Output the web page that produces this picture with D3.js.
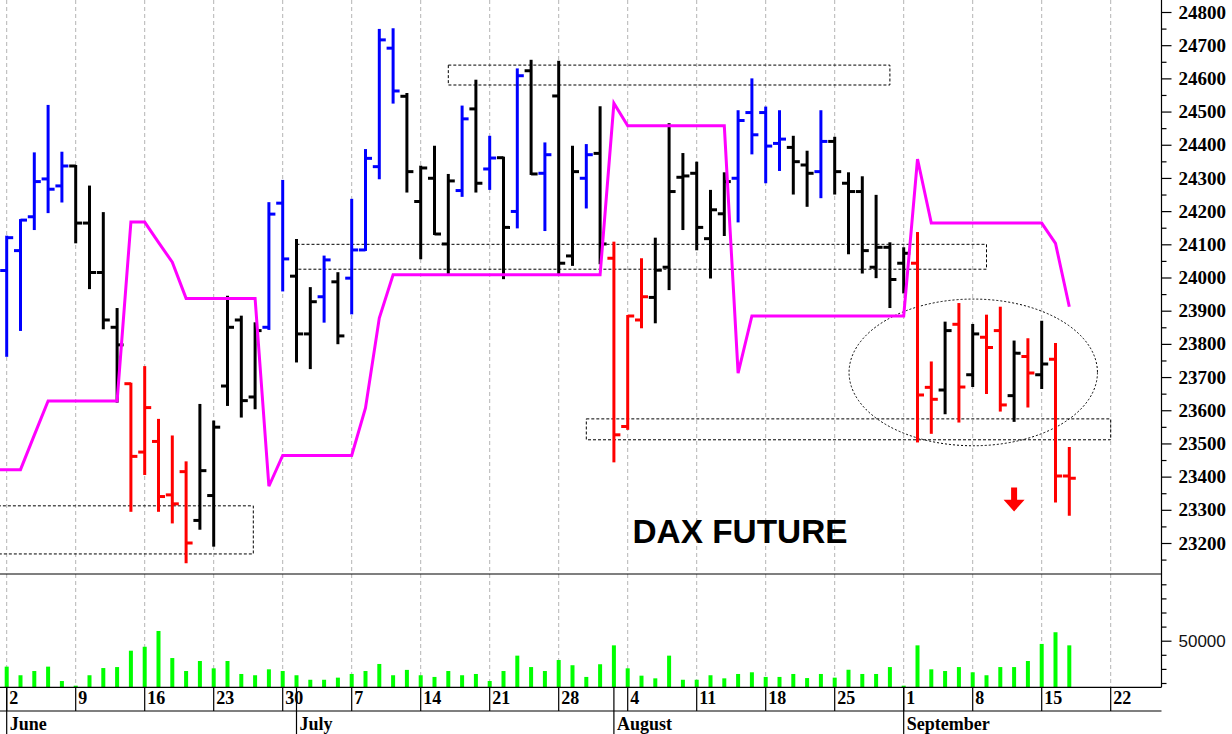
<!DOCTYPE html>
<html><head><meta charset="utf-8">
<script src="https://cdn.jsdelivr.net/npm/d3@7"></script>
<style>html,body{margin:0;padding:0;background:#fff;} svg{display:block;}</style>
</head><body><svg id="c" width="1232" height="734"></svg>
<script>
// ---- DATA (trading-day index 0 = 2 June 2025) ----
const opens  = [24021,24081,24183,24297,24276,24336,24164,24015,23850,23680,23474,23506,23345,23415,23268,23343,23673,23872,23640,23850,
                24224,24004,23830,23942,23987,23998,24083,24334,24691,24546,24229,24299,24101,24262,24508,24327,24361,24199,24623,24314,
                24547,24065,24299,24374,24058,23551,23872,23940,24031,24302,24314,24117,24192,24299,24497,24497,24404,24392,24339,24319,
                24410,24284,24259,24031,24091,24043,24043,23669,23661,23859,23707,23820,23840,23644,23762,23707,23754,23402];
const highs  = [24123,24173,24374,24517,24376,24336,24274,24194,23905,23680,23730,23571,23521,23443,23616,23566,23942,23882,23862,24224,
                24291,24113,23968,24063,24013,24234,24384,24746,24748,24553,24334,24394,24309,24515,24593,24424,24361,24627,24653,24404,
                24650,24394,24399,24513,24105,23884,24055,24117,24462,24372,24346,24261,24314,24501,24597,24512,24501,24424,24379,24501,
                24421,24314,24302,24246,24103,24088,24134,23744,23864,23920,23857,23885,23909,23807,23814,23867,23800,23486];
const lows   = [23764,23842,24146,24197,24229,24106,23968,23847,23626,23297,23408,23297,23262,23142,23243,23192,23616,23581,23606,23845,
                23961,23747,23727,23867,23802,23892,24083,24299,24527,24259,24058,24131,24013,24246,24259,24267,23998,24151,24312,24143,
                24011,24038,24211,24043,23446,23544,23850,23865,23965,24146,24085,24000,24128,24169,24374,24287,24324,24253,24216,24242,
                24253,24073,24015,24001,23911,23955,23506,23532,23591,23566,23673,23652,23599,23568,23611,23667,23325,23285];
const closes = [24120,24173,24289,24266,24336,24164,24015,23872,23797,23461,23608,23340,23318,23200,23418,23549,23850,23629,23840,24191,
                24056,23830,23927,24053,23824,24083,24359,24716,24562,24319,24330,24131,24291,24478,24284,24360,24151,24608,24312,24370,
                24043,24319,24370,24101,23526,23884,23942,24022,24259,24306,24151,24204,24289,24473,24430,24396,24417,24349,24314,24410,
                24319,24259,24081,24091,23994,24073,23646,23633,23840,23670,23830,23789,23616,23772,23712,23739,23402,23395];
const trends = ["up","up","up","up","up","flat","flat","flat","flat","down","down","down","down","down","flat","flat","flat","flat","flat","up",
                "up","flat","flat","up","flat","up","up","up","up","flat","flat","flat","flat","up","flat","up","flat","up","flat","up",
                "flat","flat","up","flat","down","down","down","flat","flat","flat","flat","flat","flat","up","up","up","up","flat","flat","up",
                "flat","flat","flat","flat","flat","flat","down","down","flat","down","flat","down","down","flat","down","flat","down","down"];
const volumes = [31600,25500,28500,31600,21400,18100,25500,30600,31300,42900,45700,56900,37700,28500,35600,30400,35600,26400,25500,29700,
                 28500,25500,22300,22300,23800,26400,28500,33500,25500,29300,25500,24300,28500,25500,26400,21400,28500,39400,31300,28500,
                 36300,32600,24300,33300,46700,30400,25200,23300,39400,22300,22300,25500,23300,26400,27600,24300,24300,26400,23500,26400,
                 23800,29400,26400,26400,31300,18100,46700,29700,28500,31300,27600,25500,31300,31300,35600,47700,56000,46700];
// stop line, first value belongs to the session before 2 June (index -1)
const stopLineStart = -1;
const stopLine = [23421,23421,23421,23525,23628,23628,23628,23628,23628,23628,24167,24167,24106,24046,23937,23937,23937,23937,23937,23937,
                  23371,23464,23464,23464,23464,23464,23464,23607,23878,24008,24008,24008,24008,24008,24008,24008,24008,24008,24008,24008,
                  24008,24008,24008,24008,24008,24525,24457,24457,24457,24457,24457,24457,24457,24457,23712,23884,23884,23884,23884,23884,
                  23884,23884,23884,23884,23884,23884,23884,24357,24164,24164,24164,24164,24164,24164,24164,24164,24164,24103,23912];
// annotation zones: [startIndex, endIndex, lowPrice, highPrice]
const zones = [[-1,17.87,23167,23312],[32,64,24580,24640],[21,71,24025,24100],[42,80,23511,23574]];
const ellipseNote = {i: 70.04, p: 23714, di: 9, dp: 221};
const arrowNote = {i: 73, top: 23367, head: 23330, tip: 23295};
const priceTicks = [23200,23300,23400,23500,23600,23700,23800,23900,24000,24100,24200,24300,24400,24500,24600,24700,24800];
const priceMinor = [23150,23250,23350,23450,23550,23650,23750,23850,23950,24050,24150,24250,24350,24450,24550,24650,24750];
const volTicks = [50000];
const volMinor = [20000,30000,40000,60000,70000,80000,90000];
const volBase = 16950;
const weekIdx = [0,5,10,15,20,25,30,35,40,45,50,55,60,65,70,75,80];
const weekLabels = ["2","9","16","23","30","7","14","21","28","4","11","18","25","1","8","15","22"];
const monthIdx = [0,21,44,65];
const monthLabels = ["June","July","August","September"];
const title = "DAX FUTURE";

// ---- CHART ----
const svg = d3.select("#c");
const W = 1232, plotR = 1161.5, priceBottom = 574, volBottom = 687.3, dayBottom = 711;
const x = d3.scaleLinear().domain([0,80]).range([6.7,1110.7]);
const y = d3.scaleLinear().domain([23200,24800]).range([543,12]);
const yv = d3.scaleLinear().domain([50000,100000]).range([640.7,570.2]);
const color = d3.scaleOrdinal().domain(["up","flat","down"]).range(["#0000ff","#000000","#ff0000"]);
const serif = "'Liberation Serif','Times New Roman',serif";
const sans = "'Liberation Sans',Arial,sans-serif";

svg.append("rect").attr("width",W).attr("height",734).attr("fill","#fff");
svg.append("defs").append("clipPath").attr("id","pc").append("rect")
  .attr("x",0).attr("y",0).attr("width",plotR).attr("height",priceBottom);

// grid
svg.append("g").selectAll("line").data(weekIdx).join("line")
  .attr("x1",d=>x(d)).attr("x2",d=>x(d)).attr("y1",0).attr("y2",volBottom)
  .attr("stroke","#b4b4b4").attr("stroke-width",1).attr("stroke-dasharray","4,3");

const pg = svg.append("g").attr("clip-path","url(#pc)");
// zones
pg.selectAll("rect.z").data(zones).join("rect").attr("class","z")
  .attr("x",d=>x(d[0])).attr("y",d=>y(d[3]))
  .attr("width",d=>x(d[1])-x(d[0])).attr("height",d=>y(d[2])-y(d[3]))
  .attr("fill","none").attr("stroke","#000").attr("stroke-width",1).attr("stroke-dasharray","3,2");
// ellipse
pg.append("ellipse").attr("cx",x(ellipseNote.i)).attr("cy",y(ellipseNote.p))
  .attr("rx",x(ellipseNote.i+ellipseNote.di)-x(ellipseNote.i))
  .attr("ry",y(ellipseNote.p-ellipseNote.dp)-y(ellipseNote.p))
  .attr("fill","none").attr("stroke","#000").attr("stroke-width",1).attr("stroke-dasharray","2,2");

// OHLC bars
const bars = d3.range(opens.length).map(i=>({i,o:opens[i],h:highs[i],l:lows[i],c:closes[i],t:trends[i]}));
const bg = pg.append("g").selectAll("g").data(bars).join("g").attr("stroke",d=>color(d.t)).attr("stroke-width",3);
bg.append("line").attr("x1",d=>x(d.i)).attr("x2",d=>x(d.i)).attr("y1",d=>y(d.h)-1).attr("y2",d=>y(d.l)+1);
bg.append("line").attr("x1",d=>x(d.i)-6.5).attr("x2",d=>x(d.i)).attr("y1",d=>y(d.o)).attr("y2",d=>y(d.o));
bg.append("line").attr("x1",d=>x(d.i)).attr("x2",d=>x(d.i)+6.5).attr("y1",d=>y(d.c)).attr("y2",d=>y(d.c));

// stop line
pg.append("path").datum(stopLine)
  .attr("d",d3.line().x((d,k)=>x(k+stopLineStart)).y(d=>y(d)))
  .attr("fill","none").attr("stroke","#ff00ff").attr("stroke-width",3).attr("stroke-linejoin","miter");

// arrow
{
  const xa = x(arrowNote.i), y1 = y(arrowNote.top), yh = y(arrowNote.head), yt = y(arrowNote.tip);
  pg.append("path").attr("d",`M${xa-3},${y1}L${xa+3},${y1}L${xa+3},${yh}L${xa+10.5},${yh}L${xa},${yt}L${xa-10.5},${yh}L${xa-3},${yh}Z`)
    .attr("fill","#ff0000");
}
// title
svg.append("text").attr("x",632.5).attr("y",543.3).text(title)
  .attr("font-family",sans).attr("font-weight","bold").attr("font-size",34).attr("fill","#000")
  .attr("textLength",215).attr("lengthAdjust","spacingAndGlyphs");

// volume bars
svg.append("g").selectAll("rect").data(volumes).join("rect")
  .attr("x",(d,i)=>x(i)-2).attr("width",4)
  .attr("y",d=>yv(d)).attr("height",d=>yv(volBase)-yv(d)).attr("fill","#00ff00");

// frame lines
const frame = svg.append("g").attr("stroke","#000").attr("stroke-width",1.2);
frame.append("line").attr("x1",0).attr("x2",plotR).attr("y1",priceBottom).attr("y2",priceBottom);
frame.append("line").attr("x1",0).attr("x2",plotR).attr("y1",volBottom).attr("y2",volBottom);
frame.append("line").attr("x1",0).attr("x2",plotR).attr("y1",dayBottom).attr("y2",dayBottom);
frame.append("line").attr("x1",plotR).attr("x2",plotR).attr("y1",0).attr("y2",volBottom);

// price axis
const pa = svg.append("g").attr("transform",`translate(${plotR},0)`)
  .call(d3.axisRight(y).tickValues(priceTicks).tickSize(10).tickPadding(7).tickFormat(d3.format("d")));
pa.select(".domain").remove();
pa.selectAll("line").attr("stroke","#000").attr("stroke-width",1.2);
pa.selectAll("text").attr("font-family",serif).attr("font-weight","bold").attr("font-size",19).attr("fill","#000");
const pm = svg.append("g").attr("transform",`translate(${plotR},0)`)
  .call(d3.axisRight(y).tickValues(priceMinor.filter(v=>y(v)<priceBottom)).tickSize(5).tickFormat(""));
pm.select(".domain").remove();
pm.selectAll("line").attr("stroke","#000").attr("stroke-width",1.2);

// volume axis
const va = svg.append("g").attr("transform",`translate(${plotR},0)`)
  .call(d3.axisRight(yv).tickValues(volTicks).tickSize(10).tickPadding(7).tickFormat(d3.format("d")));
va.select(".domain").remove();
va.selectAll("line").attr("stroke","#000").attr("stroke-width",1.2);
va.selectAll("text").attr("font-family",sans).attr("font-size",17).attr("fill","#111");
const vm = svg.append("g").attr("transform",`translate(${plotR},0)`)
  .call(d3.axisRight(yv).tickValues(volMinor).tickSize(5).tickFormat(""));
vm.select(".domain").remove();
vm.selectAll("line").attr("stroke","#000").attr("stroke-width",1.2);

// day axis
const da = svg.append("g");
da.selectAll("line").data(weekIdx).join("line")
  .attr("x1",d=>x(d)).attr("x2",d=>x(d)).attr("y1",volBottom).attr("y2",dayBottom)
  .attr("stroke","#000").attr("stroke-width",1.2);
da.selectAll("text").data(weekIdx).join("text")
  .attr("x",d=>x(d)+2.6).attr("y",704.3).text((d,k)=>weekLabels[k])
  .attr("font-family",serif).attr("font-weight","bold").attr("font-size",18).attr("fill","#000");
// month axis
const ma = svg.append("g");
ma.selectAll("line").data(monthIdx).join("line")
  .attr("x1",d=>x(d)).attr("x2",d=>x(d)).attr("y1",volBottom).attr("y2",734)
  .attr("stroke","#000").attr("stroke-width",1.2);
ma.selectAll("text").data(monthIdx).join("text")
  .attr("x",d=>x(d)+3).attr("y",729.5).text((d,k)=>monthLabels[k])
  .attr("font-family",serif).attr("font-weight","bold").attr("font-size",18).attr("fill","#000");
</script></body></html>
